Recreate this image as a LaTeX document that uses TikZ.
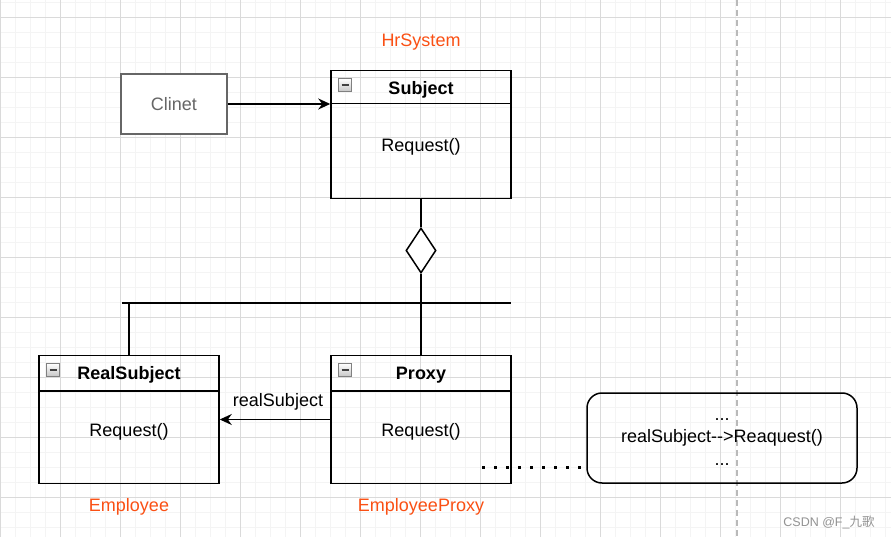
\documentclass[tikz,border=0pt]{standalone}
\usepackage{fontspec}
\setmainfont{Liberation Sans}
\newfontfamily\cjk{Noto Sans CJK SC}
\usetikzlibrary{shapes.geometric,arrows.meta}
\definecolor{hrorange}{RGB}{250,80,20}
\definecolor{minorgrid}{RGB}{244,244,244}
\definecolor{majorgrid}{RGB}{218,218,218}
\definecolor{clinetgray}{RGB}{102,102,102}
\tikzset{
  umlbox/.style={draw=black, line width=1.5pt, minimum width=180pt, minimum height=128pt, inner sep=0pt, fill=none},
  headline/.style={draw=black, line width=1.5pt},
  titletext/.style={font=\fontsize{18}{21}\selectfont\bfseries, inner sep=0pt},
  bodytext/.style={font=\fontsize{18}{21}\selectfont, inner sep=0pt},
  labeltext/.style={font=\fontsize{18}{21}\selectfont, text=hrorange, inner sep=0pt},
  iconbox/.style={draw=gray, line width=0.6pt, top color=white, bottom color=gray!45, minimum width=13pt, minimum height=13pt, inner sep=0pt},
  iconbar/.style={draw=black!75, line width=1.4pt},
  conn/.style={draw=black, line width=1.5pt},
  arrowconn/.style={conn, -{Stealth[length=12pt, width=11pt]}},
}
\begin{document}
\begin{tikzpicture}[x=1pt, y=-1pt]
\useasboundingbox (0,0) rectangle (891,537);
\fill[white] (0,0) rectangle (891,537);
% grid
\foreach \x in {0,15,...,885} \draw[minorgrid, line width=0.9pt] (\x,0) -- (\x,537);
\foreach \y in {2,17,...,535} \draw[minorgrid, line width=0.9pt] (0,\y) -- (891,\y);
\foreach \x in {0,60,...,880} \draw[majorgrid, line width=0.9pt] (\x,0) -- (\x,537);
\foreach \y in {17,77,...,535} \draw[majorgrid, line width=0.9pt] (0,\y) -- (891,\y);
% dashed separator
\draw[gray!55, line width=1.5pt, dash pattern=on 6pt off 4pt] (737,0) -- (737,537);

% HrSystem label
\node[labeltext] (hrsystem) at (421,42) {HrSystem};

% Clinet
\node[draw=clinetgray, line width=1.5pt, minimum width=106pt, minimum height=60pt, inner sep=0pt, fill=white] (clinet) at (174,104) {};
\node[bodytext, text=clinetgray] (clinettext) at (174,104) {Clinet};

% Subject
\node[umlbox] (subject) at (421,134.5) {};
\draw[headline] ([yshift=-34pt]subject.north west) -- ([yshift=-34pt]subject.north east);
\node[titletext] (subjecttitle) at (421,90) {Subject};
\node[bodytext] (subjectreq) at (421,147) {Request()};
\node[iconbox] (subjecticon) at (345,85) {};
\draw[iconbar] ([xshift=-3.5pt]subjecticon.center) -- ([xshift=3.5pt]subjecticon.center);

% RealSubject
\node[umlbox] (realsub) at (129,419.5) {};
\draw[headline] ([yshift=-36pt]realsub.north west) -- ([yshift=-36pt]realsub.north east);
\node[titletext] (realsubtitle) at (129,375) {RealSubject};
\node[bodytext] (realsubreq) at (129,432) {Request()};
\node[iconbox] (realsubicon) at (53,370) {};
\draw[iconbar] ([xshift=-3.5pt]realsubicon.center) -- ([xshift=3.5pt]realsubicon.center);
\node[labeltext] (employee) at (129,507) {Employee};

% Proxy
\node[umlbox] (proxy) at (421,419.5) {};
\draw[headline] ([yshift=-36pt]proxy.north west) -- ([yshift=-36pt]proxy.north east);
\node[titletext] (proxytitle) at (421,375) {Proxy};
\node[bodytext] (proxyreq) at (421,432) {Request()};
\node[iconbox] (proxyicon) at (345,370) {};
\draw[iconbar] ([xshift=-3.5pt]proxyicon.center) -- ([xshift=3.5pt]proxyicon.center);
\node[labeltext] (employeeproxy) at (421,507) {EmployeeProxy};

% aggregation diamond
\node[diamond, draw=black, line width=1.5pt, fill=white, minimum width=30pt, minimum height=45pt, inner sep=0pt, aspect=0.67] (agg) at (421,250.5) {};
\draw[conn] (subject.south) -- (agg.north);
\draw[conn] (agg.south) -- (proxy.north);

% horizontal bar
\coordinate (barleft) at (122,303);
\coordinate (barright) at (511,303);
\draw[conn] (barleft) -- (barright);
\draw[conn] (realsub.north) -- (realsub.north |- barleft);

% Clinet -> Subject
\draw[arrowconn] (clinet.east) -- (clinet.east -| subject.west);

% Proxy -> RealSubject
\draw[arrowconn] (proxy.west) -- (realsub.east);
\node[bodytext] (reallabel) at (278,402) {realSubject};

% note
\node[draw=black, line width=1.5pt, rounded corners=15pt, minimum width=270pt, minimum height=90pt, inner sep=0pt] (note) at (722,438) {};
\node[align=center, inner sep=0pt, font=\fontsize{18}{22.5}\selectfont] (notetext) at (722,442) {...\\realSubject{-}{-}>Reaquest()\\...};
\coordinate (dotstart) at (482,467);
\draw[black, line width=3pt, dash pattern=on 3pt off 9pt] (dotstart) -- ([xshift=-4pt]note.west |- dotstart);

% watermark
\node[font=\fontsize{12.5}{14}\selectfont, text=gray!85, inner sep=0pt] (watermark) at (829,522) {CSDN @F\_{\cjk 九歌}};
\end{tikzpicture}
\end{document}
